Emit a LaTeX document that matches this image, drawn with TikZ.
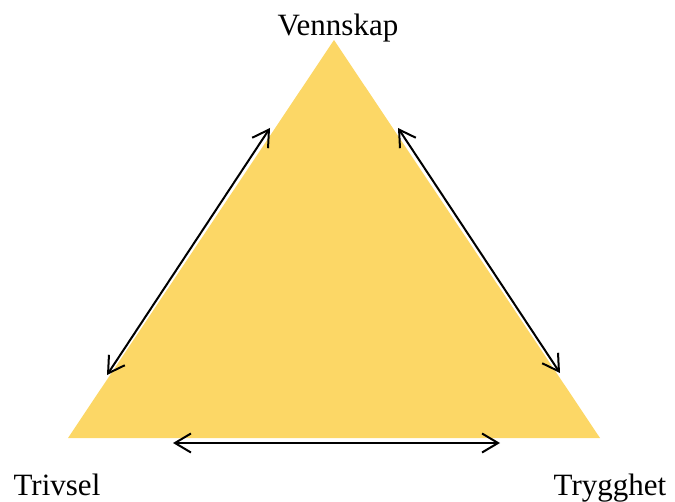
\documentclass[tikz,border=0pt]{standalone}
\usepackage{fontspec}
\setmainfont{Liberation Serif}
\usepackage{xcolor}
\usetikzlibrary{arrows.meta,positioning}
\definecolor{trigold}{HTML}{FCD766}

\begin{document}
\begin{tikzpicture}[x=0.5pt, y=-0.5pt, >={Straight Barb[length=8pt,width=9.5pt]}, every node/.style={font=\fontsize{15.5}{18}\selectfont, inner sep=0pt}]
  \useasboundingbox (0,0) rectangle (675,502);
  % corners of the triangle
  \coordinate (top) at (334,40);
  \coordinate (left) at (68,438);
  \coordinate (right) at (600,438);
  \fill[trigold] (top) -- (left) -- (right) -- cycle;
  % labels
  \node (venn) [anchor=base] at (338,36) {Vennskap};
  \node (triv) [anchor=base] at (57,495) {Trivsel};
  \node (tryg) [anchor=base] at (610,495) {Trygghet};
  % arrow ends
  \coordinate (l1) at (107,375);
  \coordinate (l2) at (270,128);
  \coordinate (r1) at (398,128);
  \coordinate (r2) at (560,373);
  \coordinate (b1) at (173,443);
  \coordinate (b2) at (500,443);
  \draw[<->, line width=1pt] (l1) -- (l2);
  \draw[<->, line width=1pt] (r1) -- (r2);
  \draw[<->, line width=1pt] (b1) -- (b2);
\end{tikzpicture}
\end{document}
